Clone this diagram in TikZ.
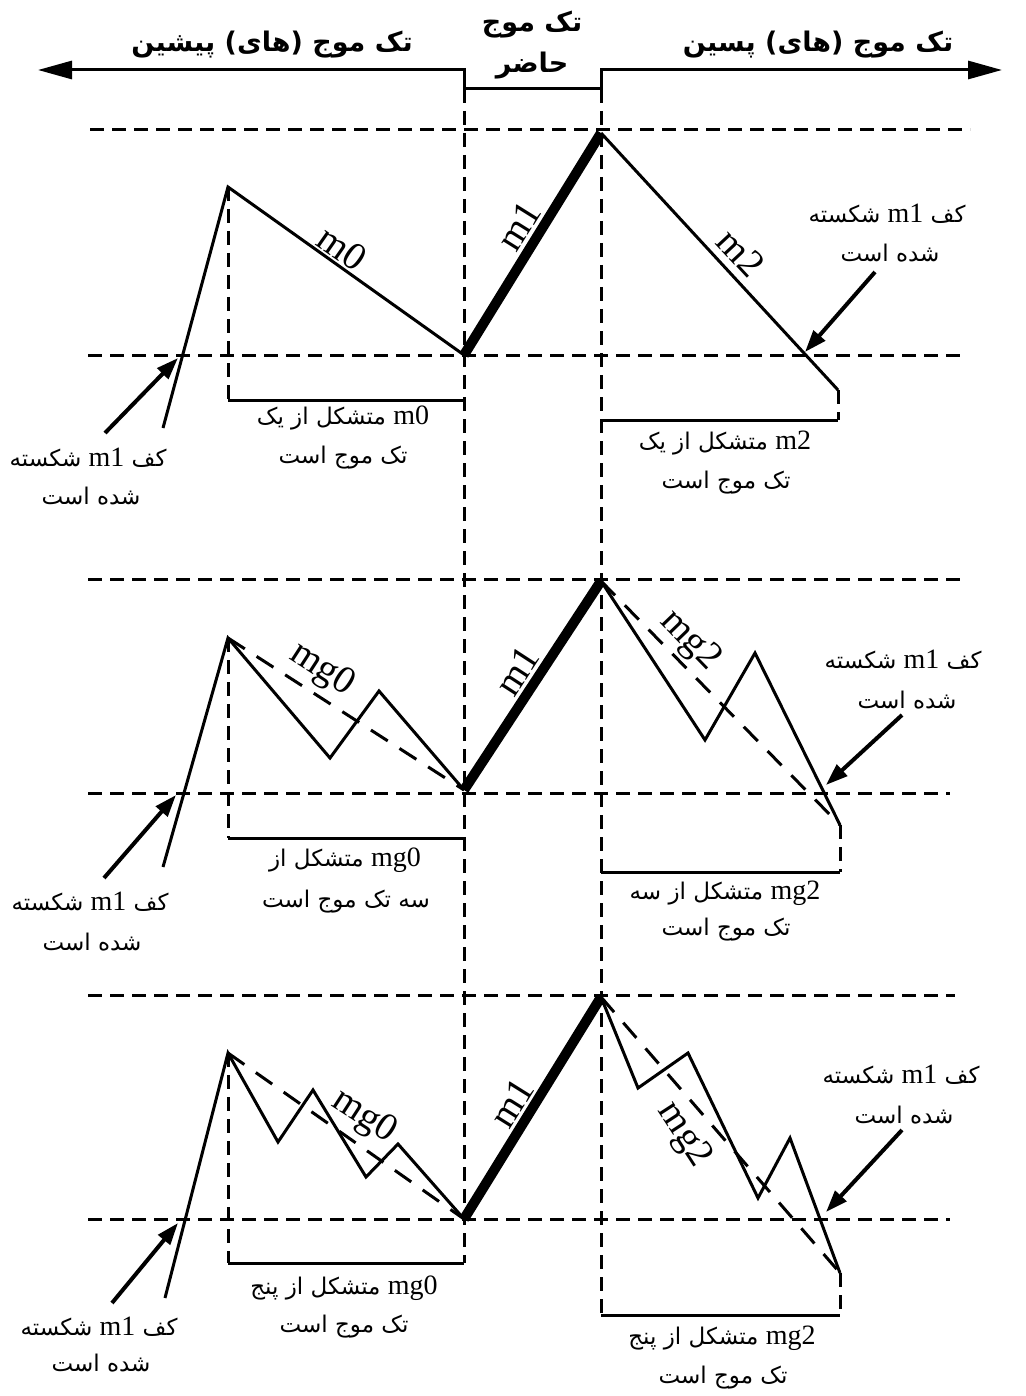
\documentclass[tikz,border=0pt]{standalone}
\usepackage{fontspec}
\setmainfont{Liberation Serif}
\newfontfamily\fa[Script=Arabic]{DejaVu Sans}
\TeXXeTstate=1
\usetikzlibrary{arrows.meta}
\newcommand\latn[1]{\beginL{\rmfamily\fontsize{28}{30}\selectfont #1}\endL}
\begin{document}
\begin{tikzpicture}[x=1pt,y=-1pt,
  wave/.style={line width=3pt,line join=miter},
  thickwave/.style={line width=10pt,line cap=butt},
  guide/.style={line width=3pt,dash pattern=on 14pt off 8pt},
  trend/.style={line width=3pt,dash pattern=on 20pt off 14pt},
  bracket/.style={line width=3pt},
  pointer/.style={line width=4pt,-{Triangle[length=22pt,width=15pt]}},
  toparrow/.style={line width=3pt,{Triangle[length=34pt,width=18pt]}-{Triangle[length=34pt,width=18pt]}},
  lbl/.style={font=\fontsize{23}{26}\selectfont\fa,inner sep=0pt},
  wlbl/.style={font=\fontsize{39}{40}\selectfont,inner sep=0pt},
  ttl/.style={font=\fontsize{27}{30}\selectfont\bfseries\fa,inner sep=0pt}]
\fill[white] (0,0) rectangle (1025,1396);
\useasboundingbox (0,0) rectangle (1025,1396);

% ---------- top header ----------
\coordinate (aL) at (38,70);
\coordinate (h1) at (464,70);
\coordinate (h2) at (464,89);
\coordinate (h3) at (601,89);
\coordinate (h4) at (601,70);
\coordinate (aR) at (1002,70);
\draw[toparrow] (aL) -- (h1) -- (h2) -- (h3) -- (h4) -- (aR);
\node[ttl] (tL) at (272,45) {\beginR تک موج (های) پیشین\endR};
\node[ttl] (tC1) at (532,25) {\beginR تک موج\endR};
\node[ttl] (tC2) at (532,66) {\beginR حاضر\endR};
\node[ttl] (tR) at (818,45) {\beginR تک موج (های) پسین\endR};

% ---------- long vertical guides ----------
\coordinate (vL1) at (464,89);
\coordinate (vL2) at (464,1263);
\coordinate (vR1) at (601,89);
\coordinate (vR2) at (601,1315);
\draw[guide] (vL1) -- (vL2);
\draw[guide] (vR1) -- (vR2);

% ========== panel 1 ==========
\coordinate (ga1) at (90,130);  \coordinate (ga2) at (970,130);
\coordinate (ga3) at (88,355);  \coordinate (ga4) at (965,355);
\draw[guide] (ga1) -- (ga2);
\draw[guide] (ga3) -- (ga4);
\coordinate (sa) at (163,428);
\coordinate (pa) at (228,187);
\coordinate (va) at (464,355);
\coordinate (ta) at (601,133);
\coordinate (ea) at (838,390);
\coordinate (bLa) at (228,400); \coordinate (bRa) at (464,400);
\coordinate (cLa) at (601,420); \coordinate (cRa) at (838,420);
\draw[guide] (pa) -- (bLa);
\draw[guide] (ea) -- (cRa);
\draw[bracket] (bLa) -- (bRa);
\draw[bracket] (cLa) -- (cRa);
\draw[wave] (sa) -- (pa) -- (va);
\draw[thickwave] (va) -- (ta);
\draw[wave] (ta) -- (ea);
\node[wlbl,rotate=-35] (m0a) at (342,248) {m0};
\node[wlbl,rotate=58] (m1a) at (519,226) {m1};
\node[wlbl,rotate=-47] (m2a) at (741,253) {m2};
\coordinate (kaL1) at (105,433); \coordinate (kaL2) at (178,358);
\coordinate (kaR1) at (875,272); \coordinate (kaR2) at (805,352);
\draw[pointer] (kaL1) -- (kaL2);
\draw[pointer] (kaR1) -- (kaR2);
\node[lbl] (la1) at (88,458) {\beginR کف \latn{m1} شکسته\endR};
\node[lbl] (la2) at (91,496) {\beginR شده است\endR};
\node[lbl] (ma1) at (343,418) {\beginR\latn{m0} متشکل از یک\endR};
\node[lbl] (ma2) at (343,458) {\beginR تک موج است\endR};
\node[lbl] (ra1) at (887,214) {\beginR کف \latn{m1} شکسته\endR};
\node[lbl] (ra2) at (890,253) {\beginR شده است\endR};
\node[lbl] (na1) at (725,443) {\beginR\latn{m2} متشکل از یک\endR};
\node[lbl] (na2) at (726,483) {\beginR تک موج است\endR};

% ========== panel 2 ==========
\coordinate (gb1) at (88,579);  \coordinate (gb2) at (965,579);
\coordinate (gb3) at (88,793);  \coordinate (gb4) at (950,793);
\draw[guide] (gb1) -- (gb2);
\draw[guide] (gb3) -- (gb4);
\coordinate (sb) at (163,867);
\coordinate (pb) at (228,638);
\coordinate (qb1) at (330,758);
\coordinate (qb2) at (379,691);
\coordinate (vb) at (464,790);
\coordinate (tb) at (601,581);
\coordinate (rb1) at (705,740);
\coordinate (rb2) at (755,653);
\coordinate (eb) at (840,825);
\coordinate (bLb) at (228,838); \coordinate (bRb) at (464,838);
\coordinate (cLb) at (601,872); \coordinate (cRb) at (840,872);
\draw[guide] (pb) -- (bLb);
\draw[guide] (eb) -- (cRb);
\draw[bracket] (bLb) -- (bRb);
\draw[bracket] (cLb) -- (cRb);
\draw[trend] (pb) -- (vb);
\draw[trend] (tb) -- (eb);
\draw[wave] (sb) -- (pb) -- (qb1) -- (qb2) -- (vb);
\draw[thickwave] (vb) -- (tb);
\draw[wave] (tb) -- (rb1) -- (rb2) -- (eb);
\node[wlbl,rotate=-33] (g0b) at (322,670) {mg0};
\node[wlbl,rotate=57] (m1b) at (517,671) {m1};
\node[wlbl,rotate=-46] (g2b) at (690,641) {mg2};
\coordinate (kbL1) at (104,878); \coordinate (kbL2) at (176,795);
\coordinate (kbR1) at (902,715); \coordinate (kbR2) at (826,785);
\draw[pointer] (kbL1) -- (kbL2);
\draw[pointer] (kbR1) -- (kbR2);
\node[lbl] (lb1) at (90,902) {\beginR کف \latn{m1} شکسته\endR};
\node[lbl] (lb2) at (92,942) {\beginR شده است\endR};
\node[lbl] (mb1) at (345,860) {\beginR\latn{mg0} متشکل از\endR};
\node[lbl] (mb2) at (346,902) {\beginR سه تک موج است\endR};
\node[lbl] (rb1t) at (903,660) {\beginR کف \latn{m1} شکسته\endR};
\node[lbl] (rb2t) at (907,700) {\beginR شده است\endR};
\node[lbl] (nb1) at (725,893) {\beginR\latn{mg2} متشکل از سه\endR};
\node[lbl] (nb2) at (726,930) {\beginR تک موج است\endR};

% ========== panel 3 ==========
\coordinate (gc1) at (88,995);  \coordinate (gc2) at (955,995);
\coordinate (gc3) at (88,1219); \coordinate (gc4) at (950,1219);
\draw[guide] (gc1) -- (gc2);
\draw[guide] (gc3) -- (gc4);
\coordinate (sc) at (165,1298);
\coordinate (pc) at (228,1053);
\coordinate (qc1) at (278,1142);
\coordinate (qc2) at (313,1090);
\coordinate (qc3) at (366,1177);
\coordinate (qc4) at (398,1144);
\coordinate (vc) at (464,1219);
\coordinate (tc) at (601,997);
\coordinate (rc1) at (638,1088);
\coordinate (rc2) at (688,1053);
\coordinate (rc3) at (758,1198);
\coordinate (rc4) at (790,1138);
\coordinate (ec) at (840,1273);
\coordinate (bLc) at (228,1263); \coordinate (bRc) at (464,1263);
\coordinate (cLc) at (601,1315); \coordinate (cRc) at (840,1315);
\draw[guide] (pc) -- (bLc);
\draw[guide] (ec) -- (cRc);
\draw[bracket] (bLc) -- (bRc);
\draw[bracket] (cLc) -- (cRc);
\draw[trend] (pc) -- (vc);
\draw[trend] (tc) -- (ec);
\draw[wave] (sc) -- (pc) -- (qc1) -- (qc2) -- (qc3) -- (qc4) -- (vc);
\draw[thickwave] (vc) -- (tc);
\draw[wave] (tc) -- (rc1) -- (rc2) -- (rc3) -- (rc4) -- (ec);
\node[wlbl,rotate=-33] (g0c) at (364,1117) {mg0};
\node[wlbl,rotate=58] (m1c) at (512,1103) {m1};
\node[wlbl,rotate=-57] (g2c) at (684,1135) {mg2};
\coordinate (kcL1) at (112,1303); \coordinate (kcL2) at (178,1223);
\coordinate (kcR1) at (902,1130); \coordinate (kcR2) at (826,1212);
\draw[pointer] (kcL1) -- (kcL2);
\draw[pointer] (kcR1) -- (kcR2);
\node[lbl] (lc1) at (99,1327) {\beginR کف \latn{m1} شکسته\endR};
\node[lbl] (lc2) at (101,1363) {\beginR شده است\endR};
\node[lbl] (mc1) at (344,1288) {\beginR\latn{mg0} متشکل از پنج\endR};
\node[lbl] (mc2) at (344,1327) {\beginR تک موج است\endR};
\node[lbl] (rc1t) at (901,1075) {\beginR کف \latn{m1} شکسته\endR};
\node[lbl] (rc2t) at (904,1115) {\beginR شده است\endR};
\node[lbl] (nc1) at (722,1338) {\beginR\latn{mg2} متشکل از پنج\endR};
\node[lbl] (nc2) at (723,1378) {\beginR تک موج است\endR};
\end{tikzpicture}
\end{document}
